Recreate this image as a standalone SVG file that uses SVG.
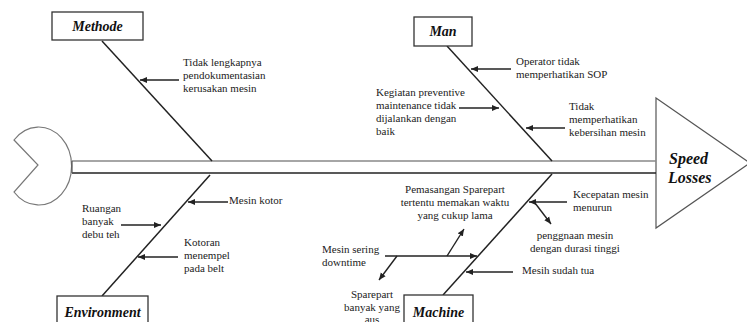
<svg xmlns="http://www.w3.org/2000/svg" width="747" height="322" viewBox="0 0 747 322">
<style>
text{font-family:"Liberation Serif","DejaVu Serif","Times New Roman",serif}
.lbl{font-size:11px;fill:#222}
.ttl{font-size:14px;font-weight:bold;font-style:italic;fill:#111}
.box{fill:#fff;stroke:#333;stroke-width:1.3}
.bone{stroke:#222;stroke-width:1.5;fill:none}
.arr{stroke:#222;stroke-width:1.4;fill:none;marker-end:url(#ah)}
</style>
<defs>
<marker id="ah" markerUnits="userSpaceOnUse" markerWidth="8" markerHeight="8" refX="7" refY="4" orient="auto">
<path d="M0,1 L7,4 L0,7 Z" fill="#222"/>
</marker>
</defs>
<g id="tail">
<path d="M14,140 L38,165 L14,192 A33,39 0 1 0 14,140 Z" fill="#fff" stroke="#777" stroke-width="1.2"/>
</g>
<g id="head">
<path d="M656,98 L750,163 L656,228 Z" fill="#fff" stroke="#555" stroke-width="1.2"/>
<text class="ttl" x="669" y="164" font-family="Liberation Serif, DejaVu Serif, serif" style="font-size:16px">Speed</text>
<text class="ttl" x="668" y="183" font-family="Liberation Serif, DejaVu Serif, serif" style="font-size:16px">Losses</text>
</g>
<g id="connectors">
<line x1="72" y1="161" x2="656" y2="161" stroke="#888" stroke-width="1.3"/>
<line x1="72" y1="173" x2="656" y2="173" stroke="#222" stroke-width="1.3"/>
<line x1="72" y1="161" x2="72" y2="173" stroke="#555" stroke-width="1.2"/>
<line class="bone" x1="102" y1="41" x2="212" y2="161"/>
<line class="bone" x1="447" y1="46" x2="552" y2="161"/>
<line class="bone" x1="210" y1="175" x2="102" y2="296"/>
<line class="bone" x1="552" y1="174" x2="443" y2="295"/>
<line class="arr" x1="179" y1="80" x2="140" y2="80"/>
<line class="arr" x1="511" y1="69" x2="471" y2="69"/>
<line class="arr" x1="459" y1="108" x2="499" y2="108"/>
<line class="arr" x1="565" y1="128" x2="526" y2="128"/>
<line class="arr" x1="228" y1="202" x2="188" y2="202"/>
<line class="arr" x1="121" y1="225" x2="161" y2="225"/>
<line class="arr" x1="178" y1="257" x2="138" y2="257"/>
<line class="arr" x1="385" y1="256" x2="477" y2="256"/>
<line class="arr" x1="447" y1="256" x2="464" y2="229"/>
<line class="arr" x1="397" y1="256" x2="379" y2="280"/>
<line class="arr" x1="567" y1="202" x2="529" y2="202"/>
<line class="arr" x1="535" y1="203" x2="551" y2="224"/>
<line class="arr" x1="513" y1="272" x2="466" y2="272"/>
</g>
<g id="methode">
<rect class="box" x="52" y="12" width="91" height="28"/>
<text class="ttl" x="97.5" y="31" text-anchor="middle">Methode</text>
<text class="lbl" x="183" y="66">Tidak lengkapnya</text>
<text class="lbl" x="183" y="79">pendokumentasian</text>
<text class="lbl" x="183" y="92">kerusakan mesin</text>
</g>
<g id="man">
<rect class="box" x="414" y="17" width="58" height="29"/>
<text class="ttl" x="443" y="36" text-anchor="middle">Man</text>
<text class="lbl" x="516" y="65">Operator tidak</text>
<text class="lbl" x="516" y="78">memperhatikan SOP</text>
<text class="lbl" x="376" y="96">Kegiatan preventive</text>
<text class="lbl" x="376" y="109">maintenance tidak</text>
<text class="lbl" x="376" y="122">dijalankan dengan</text>
<text class="lbl" x="376" y="135">baik</text>
<text class="lbl" x="569" y="110">Tidak</text>
<text class="lbl" x="569" y="123">memperhatikan</text>
<text class="lbl" x="569" y="136">kebersihan mesin</text>
</g>
<g id="environment">
<rect class="box" x="57" y="296" width="91" height="34"/>
<text class="ttl" x="102.5" y="317" text-anchor="middle">Environment</text>
<text class="lbl" x="229" y="204">Mesin kotor</text>
<text class="lbl" x="82" y="212">Ruangan</text>
<text class="lbl" x="82" y="225">banyak</text>
<text class="lbl" x="82" y="238">debu teh</text>
<text class="lbl" x="184" y="246">Kotoran</text>
<text class="lbl" x="184" y="259">menempel</text>
<text class="lbl" x="184" y="272">pada belt</text>
</g>
<g id="machine">
<rect class="box" x="404" y="295" width="69" height="34"/>
<text class="ttl" x="438.5" y="317" text-anchor="middle">Machine</text>
<text class="lbl" x="455" y="193" text-anchor="middle">Pemasangan Sparepart</text>
<text class="lbl" x="455" y="206" text-anchor="middle">tertentu memakan waktu</text>
<text class="lbl" x="455" y="219" text-anchor="middle">yang cukup lama</text>
<text class="lbl" x="322" y="253">Mesin sering</text>
<text class="lbl" x="322" y="266">downtime</text>
<text class="lbl" x="372" y="298" text-anchor="middle">Sparepart</text>
<text class="lbl" x="372" y="311" text-anchor="middle">banyak yang</text>
<text class="lbl" x="372" y="323" text-anchor="middle">aus</text>
<text class="lbl" x="573" y="198">Kecepatan mesin</text>
<text class="lbl" x="573" y="211">menurun</text>
<text class="lbl" x="575" y="239" text-anchor="middle">penggnaan mesin</text>
<text class="lbl" x="575" y="252" text-anchor="middle">dengan durasi tinggi</text>
<text class="lbl" x="522" y="274">Mesih sudah tua</text>
</g>
</svg>
